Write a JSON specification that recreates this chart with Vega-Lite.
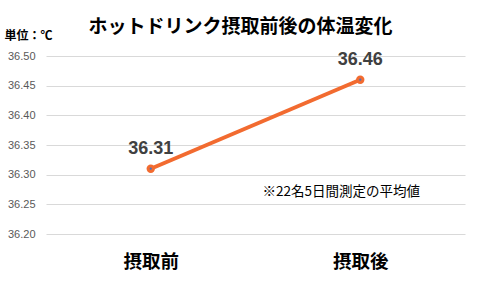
{
  "$schema": "https://vega.github.io/schema/vega-lite/v6.json",
  "width": 419,
  "height": 178,
  "autosize": {"type": "none"},
  "padding": {"left": 46, "top": 56, "right": 14, "bottom": 51},
  "background": "white",
  "title": {
    "text": "ホットドリンク摂取前後の体温変化",
    "font": "Noto Sans CJK JP",
    "fontSize": 19,
    "fontWeight": "bold",
    "color": "#000000",
    "anchor": "middle",
    "frame": "group",
    "dx": -15,
    "offset": -8
  },
  "config": {"view": {"stroke": null}},
  "data": {
    "values": [
      {"phase": "摂取前", "temp": 36.31},
      {"phase": "摂取後", "temp": 36.46}
    ]
  },
  "encoding": {
    "x": {
      "field": "phase",
      "type": "nominal",
      "sort": ["摂取前", "摂取後"],
      "scale": {"paddingInner": 0, "paddingOuter": 0},
      "axis": {
        "title": null,
        "labelAngle": 0,
        "labelFont": "Noto Sans CJK JP",
        "labelFontSize": 18.5,
        "labelFontWeight": "bold",
        "labelColor": "#000000",
        "labelPadding": 18,
        "domain": false,
        "ticks": false,
        "grid": false
      }
    },
    "y": {
      "field": "temp",
      "type": "quantitative",
      "scale": {"domain": [36.2, 36.5], "zero": false, "nice": false},
      "axis": {
        "values": [36.2, 36.25, 36.3, 36.35, 36.4, 36.45, 36.5],
        "format": ".2f",
        "title": "単位：℃",
        "titleAngle": 0,
        "titleX": -42,
        "titleY": -17,
        "titleAlign": "left",
        "titleBaseline": "alphabetic",
        "titleFont": "Noto Sans CJK JP",
        "titleFontSize": 12,
        "titleFontWeight": "bold",
        "titleColor": "#000000",
        "labelFont": "Liberation Sans",
        "labelFontSize": 11,
        "labelColor": "#595959",
        "labelPadding": 11,
        "domain": false,
        "ticks": false,
        "grid": true,
        "gridColor": "#d9d9d9",
        "gridWidth": 1
      }
    }
  },
  "layer": [
    {
      "mark": {"type": "line", "color": "#F26B30", "strokeWidth": 4}
    },
    {
      "mark": {"type": "point", "filled": true, "color": "#F26B30", "size": 70, "opacity": 1}
    },
    {
      "mark": {"type": "point", "filled": true, "color": "#4472C4", "size": 5, "opacity": 1}
    },
    {
      "mark": {
        "type": "text",
        "dy": -20,
        "font": "Liberation Sans",
        "fontSize": 18,
        "fontWeight": "bold",
        "color": "#404040"
      },
      "encoding": {"text": {"field": "temp", "type": "quantitative", "format": ".2f"}}
    },
    {
      "data": {"values": [{"phase": "摂取後", "temp": 36.27, "note": "※22名5日間測定の平均値"}]},
      "mark": {
        "type": "text",
        "dx": -19,
        "font": "Noto Sans CJK JP",
        "fontSize": 13.5,
        "color": "#000000"
      },
      "encoding": {"text": {"field": "note", "type": "nominal"}}
    }
  ]
}
